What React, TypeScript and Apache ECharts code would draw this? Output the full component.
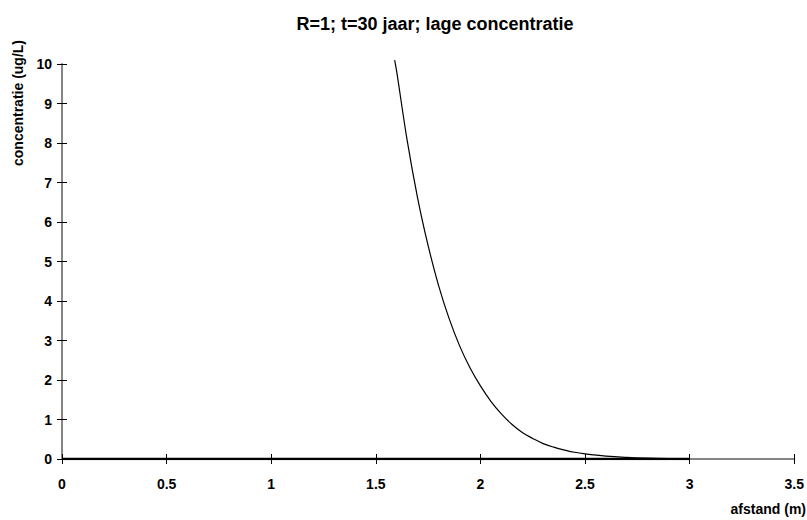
import React, { useEffect, useRef } from "react";
import * as echarts from "echarts";

const titleText = "R=1; t=30 jaar; lage concentratie";
const xName = "afstand (m)";
const yName = "concentratie (ug/L)";

// concentration curve (afstand in m, concentratie in ug/L)
const curveX = [1.59, 1.6, 1.65, 1.7, 1.75, 1.8, 1.85, 1.9, 1.95, 2.0, 2.05, 2.1, 2.15, 2.2, 2.25, 2.3, 2.35, 2.4, 2.45, 2.5, 2.6, 2.7, 2.8, 2.9, 3.0];
const curveY = [10.1, 9.8, 8.06, 6.6, 5.4, 4.39, 3.56, 2.87, 2.31, 1.85, 1.46, 1.14, 0.88, 0.67, 0.52, 0.39, 0.3, 0.23, 0.17, 0.13, 0.074, 0.041, 0.021, 0.01, 0.005];

// baseline series
const baseX = [0, 0.5, 1, 1.5, 2, 2.5, 3];
const baseY = [0, 0, 0, 0, 0, 0, 0];

const FONT = "'Liberation Sans', Arial, sans-serif";

export default function App() {
  const ref = useRef<HTMLDivElement>(null);
  useEffect(() => {
    if (!ref.current) return;
    const chart = echarts.init(ref.current, undefined, { renderer: "svg" });
    const axisCommonX = { type: "value", min: 0, max: 3.5, interval: 0.5, splitLine: { show: false } };
    const axisCommonY = { type: "value", min: 0, max: 10, interval: 1, splitLine: { show: false } };
    chart.setOption({
      animation: false,
      backgroundColor: "#ffffff",
      title: {
        text: titleText,
        left: 430,
        top: 10,
        textAlign: "center",
        textStyle: { fontSize: 18, fontWeight: "bold", fontFamily: FONT, color: "#000" },
      },
      grid: { left: 62, right: 11, top: 64, bottom: 61, containLabel: false },
      xAxis: [
        {
          ...axisCommonX,
          position: "bottom",
          axisLine: { show: true, lineStyle: { color: "#858585", width: 2 } },
          axisTick: { show: true, inside: false, length: 5, lineStyle: { color: "#000", width: 1 } },
          axisLabel: { margin: 18, fontSize: 14, fontWeight: "bold", fontFamily: FONT, color: "#000" },
        },
        {
          ...axisCommonX,
          position: "bottom",
          axisLine: { show: false },
          axisTick: { show: true, inside: true, length: 5, lineStyle: { color: "#000", width: 1 } },
          axisLabel: { show: false },
        },
      ],
      yAxis: [
        {
          ...axisCommonY,
          position: "left",
          axisLine: { show: true, lineStyle: { color: "#858585", width: 2 } },
          axisTick: { show: true, inside: false, length: 5, lineStyle: { color: "#000", width: 1 } },
          axisLabel: { margin: 10, fontSize: 14, fontWeight: "bold", fontFamily: FONT, color: "#000" },
        },
        {
          ...axisCommonY,
          position: "left",
          axisLine: { show: false },
          axisTick: { show: true, inside: true, length: 5, lineStyle: { color: "#000", width: 1 } },
          axisLabel: { show: false },
        },
      ],
      graphic: [
        {
          type: "text",
          x: 18,
          y: 103,
          rotation: Math.PI / 2,
          style: {
            text: yName,
            align: "center",
            verticalAlign: "middle",
            font: `bold 14px ${FONT}`,
            fill: "#000",
          },
        },
        {
          type: "text",
          x: 806,
          y: 509,
          style: {
            text: xName,
            align: "right",
            verticalAlign: "middle",
            font: `bold 14px ${FONT}`,
            fill: "#000",
          },
        },
      ],
      series: [
        {
          type: "line",
          xAxisIndex: 0,
          yAxisIndex: 0,
          data: baseX.map((x, i) => [x, baseY[i]]),
          showSymbol: false,
          symbol: "none",
          lineStyle: { color: "#000", width: 2.5 },
          z: 3,
        },
        {
          type: "line",
          xAxisIndex: 0,
          yAxisIndex: 0,
          data: curveX.map((x, i) => [x, curveY[i]]),
          showSymbol: false,
          symbol: "none",
          smooth: 0.4,
          clip: false,
          lineStyle: { color: "#000", width: 1.2 },
          z: 4,
        },
      ],
    });
    return () => chart.dispose();
  }, []);
  return (
    <div
      ref={ref}
      style={{ position: "fixed", left: 0, top: 0, width: 807, height: 520, background: "#fff" }}
    />
  );
}
